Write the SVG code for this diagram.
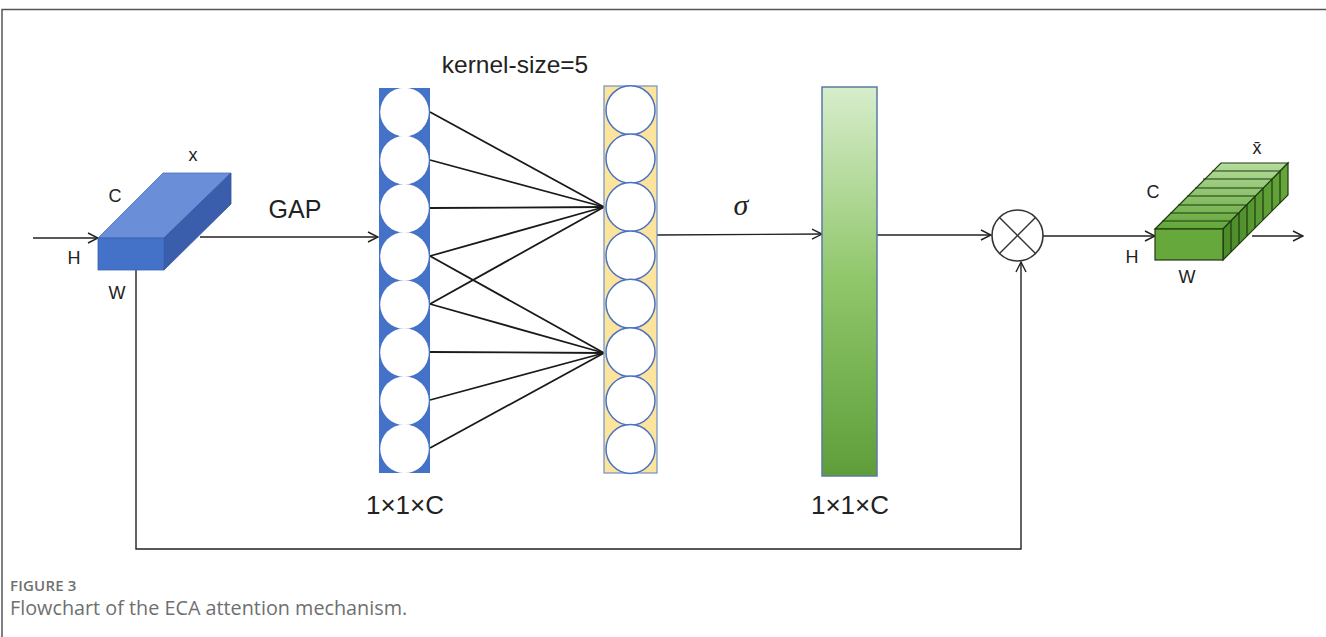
<svg xmlns="http://www.w3.org/2000/svg" width="1326" height="637" viewBox="0 0 1326 637">
<defs>
<style>
.t{font-family:"Liberation Sans",Arial,sans-serif;fill:#222}
.conn{stroke:#222;stroke-width:1.4;fill:none}
.fan{stroke:#1a1a1a;stroke-width:1.8;fill:none}
.cb{fill:#fff;stroke:none}
.cy{fill:#fff;stroke:#4a72c4;stroke-width:1.5}
.cap{font-family:"Open Sans","Noto Sans",sans-serif}
</style>
<marker id="ah" viewBox="0 0 12 12" refX="11" refY="6" markerWidth="12" markerHeight="12" markerUnits="userSpaceOnUse" orient="auto">
<path d="M1,1 L11,6 L1,11" fill="none" stroke="#222" stroke-width="1.4"/>
</marker>
<linearGradient id="gbar" x1="0" y1="0" x2="0" y2="1">
<stop offset="0" stop-color="#d7edcb"/>
<stop offset="0.5" stop-color="#8fc66a"/>
<stop offset="1" stop-color="#5e9e3a"/>
</linearGradient>
<linearGradient id="gslice" x1="0" y1="0" x2="0" y2="1">
<stop offset="0" stop-color="#b5dc9c"/>
<stop offset="1" stop-color="#62a638"/>
</linearGradient>
<linearGradient id="gside" x1="0" y1="0" x2="1" y2="0">
<stop offset="0" stop-color="#4a8a28"/>
<stop offset="1" stop-color="#66a83c"/>
</linearGradient>
</defs>
<rect width="1326" height="637" fill="#fff"/>
<g id="frame" stroke="#555" stroke-width="1.5" fill="none">
<path d="M2,637 V9.5 H1326"/>
</g>

<g id="connectors">
<line class="conn" x1="33" y1="238" x2="98" y2="238" marker-end="url(#ah)"/>
<line class="conn" x1="200" y1="237" x2="378" y2="237" marker-end="url(#ah)"/>
<line class="conn" x1="657" y1="235" x2="822" y2="234" marker-end="url(#ah)"/>
<line class="conn" x1="877" y1="235" x2="991" y2="235" marker-end="url(#ah)"/>
<line class="conn" x1="1043" y1="236" x2="1155" y2="236" marker-end="url(#ah)"/>
<line class="conn" x1="1252" y1="236" x2="1303" y2="236" marker-end="url(#ah)"/>
<path class="conn" d="M136,270 V549 H1021 V262" marker-end="url(#ah)"/>
<g id="fan">
<line class="fan" x1="430" y1="112" x2="604" y2="207"/>
<line class="fan" x1="430" y1="160" x2="604" y2="207"/>
<line class="fan" x1="430" y1="208" x2="604" y2="207"/>
<line class="fan" x1="430" y1="256" x2="604" y2="207"/>
<line class="fan" x1="430" y1="304" x2="604" y2="207"/>
<line class="fan" x1="430" y1="256" x2="604" y2="353"/>
<line class="fan" x1="430" y1="304" x2="604" y2="353"/>
<line class="fan" x1="430" y1="352" x2="604" y2="353"/>
<line class="fan" x1="430" y1="400" x2="604" y2="353"/>
<line class="fan" x1="430" y1="448" x2="604" y2="353"/>
</g>
</g>

<g id="input-cube">
<polygon points="98,238 164,238 231,173 163,173" fill="#6a8fd8" stroke="#4a6fc0" stroke-width="0.8"/>
<polygon points="164,238 231,173 231,204 164,270" fill="#3a5eab" stroke="#34549c" stroke-width="0.8"/>
<rect x="98" y="238" width="66" height="32" fill="#4472c8" stroke="#3b63b0" stroke-width="0.8"/>
<text class="t" x="193" y="161" font-size="18" text-anchor="middle">x</text>
<text class="t" x="115" y="202" font-size="18" text-anchor="middle">C</text>
<text class="t" x="74" y="264" font-size="18" text-anchor="middle">H</text>
<text class="t" x="117" y="299" font-size="18" text-anchor="middle">W</text>
<text class="t" x="295" y="218" font-size="25" text-anchor="middle">GAP</text>
</g>

<g id="gap-column">
<rect x="379" y="88" width="51" height="385" fill="#4472c8"/>
<circle class="cb" cx="404.5" cy="112" r="24.3"/>
<circle class="cb" cx="404.5" cy="160.1" r="24.3"/>
<circle class="cb" cx="404.5" cy="208.3" r="24.3"/>
<circle class="cb" cx="404.5" cy="256.4" r="24.3"/>
<circle class="cb" cx="404.5" cy="304.5" r="24.3"/>
<circle class="cb" cx="404.5" cy="352.6" r="24.3"/>
<circle class="cb" cx="404.5" cy="400.7" r="24.3"/>
<circle class="cb" cx="404.5" cy="448.8" r="24.3"/>
<text class="t" x="405" y="514" font-size="26" text-anchor="middle">1×1×C</text>
</g>

<g id="conv-column">
<rect x="604" y="86" width="53" height="387" fill="#fde49c" stroke="#6f8fc8" stroke-width="1.2"/>
<circle class="cy" cx="630.5" cy="110.2" r="24.5"/>
<circle class="cy" cx="630.5" cy="158.6" r="24.5"/>
<circle class="cy" cx="630.5" cy="207" r="24.5"/>
<circle class="cy" cx="630.5" cy="255.4" r="24.5"/>
<circle class="cy" cx="630.5" cy="303.8" r="24.5"/>
<circle class="cy" cx="630.5" cy="352.2" r="24.5"/>
<circle class="cy" cx="630.5" cy="400.6" r="24.5"/>
<circle class="cy" cx="630.5" cy="449" r="24.5"/>
<text class="t" x="515" y="73" font-size="24.5" text-anchor="middle">kernel-size=5</text>
</g>

<g id="sigma-label">
<text x="741" y="215" font-size="30" font-style="italic" text-anchor="middle" font-family="'Liberation Serif','DejaVu Serif',serif" fill="#222">σ</text>
</g>

<g id="weight-bar">
<rect x="822" y="87" width="55" height="389" fill="url(#gbar)" stroke="#5b7aa6" stroke-width="1.5"/>
<text class="t" x="850" y="514" font-size="26" text-anchor="middle">1×1×C</text>
</g>

<g id="multiply">
<circle cx="1017.5" cy="235.5" r="25.5" fill="#fff" stroke="#333" stroke-width="1.6"/>
<line x1="999.5" y1="217.5" x2="1035.5" y2="253.5" stroke="#333" stroke-width="1.5"/>
<line x1="1035.5" y1="217.5" x2="999.5" y2="253.5" stroke="#333" stroke-width="1.5"/>
</g>

<g id="output-cube" stroke="#1e3a10" stroke-width="1.2">
<polygon points="1155,229 1223,229 1288,163 1221,163" fill="url(#gslice)"/>
<line x1="1162" y1="221" x2="1230" y2="221"/>
<line x1="1170" y1="213" x2="1238" y2="213"/>
<line x1="1178" y1="205" x2="1247" y2="205"/>
<line x1="1187" y1="196" x2="1255" y2="196"/>
<line x1="1195" y1="188" x2="1263" y2="188"/>
<line x1="1203" y1="179" x2="1272" y2="179"/>
<line x1="1212" y1="171" x2="1280" y2="171"/>
<polygon points="1223,229 1288,163 1288,195 1223,260" fill="url(#gside)"/>
<line x1="1231" y1="221" x2="1231" y2="252"/>
<line x1="1239" y1="213" x2="1239" y2="244"/>
<line x1="1247" y1="205" x2="1247" y2="236"/>
<line x1="1255" y1="196" x2="1255" y2="228"/>
<line x1="1263" y1="188" x2="1263" y2="220"/>
<line x1="1272" y1="179" x2="1272" y2="211"/>
<line x1="1280" y1="171" x2="1280" y2="203"/>
<rect x="1155" y="229" width="68" height="31" fill="#66a83c"/>
</g>
<g id="output-labels">
<text class="t" x="1257" y="154" font-size="18" text-anchor="middle">x̄</text>
<text class="t" x="1153" y="198" font-size="18" text-anchor="middle">C</text>
<text class="t" x="1132" y="263" font-size="18" text-anchor="middle">H</text>
<text class="t" x="1187" y="283" font-size="18" text-anchor="middle">W</text>
</g>

<g id="caption">
<text class="cap" x="10" y="591" font-size="15" font-weight="600" fill="#707070" letter-spacing="0.2">FIGURE 3</text>
<text class="cap" x="10" y="615" font-size="19.8" fill="#6f6f6f">Flowchart of the ECA attention mechanism.</text>
</g>
</svg>
